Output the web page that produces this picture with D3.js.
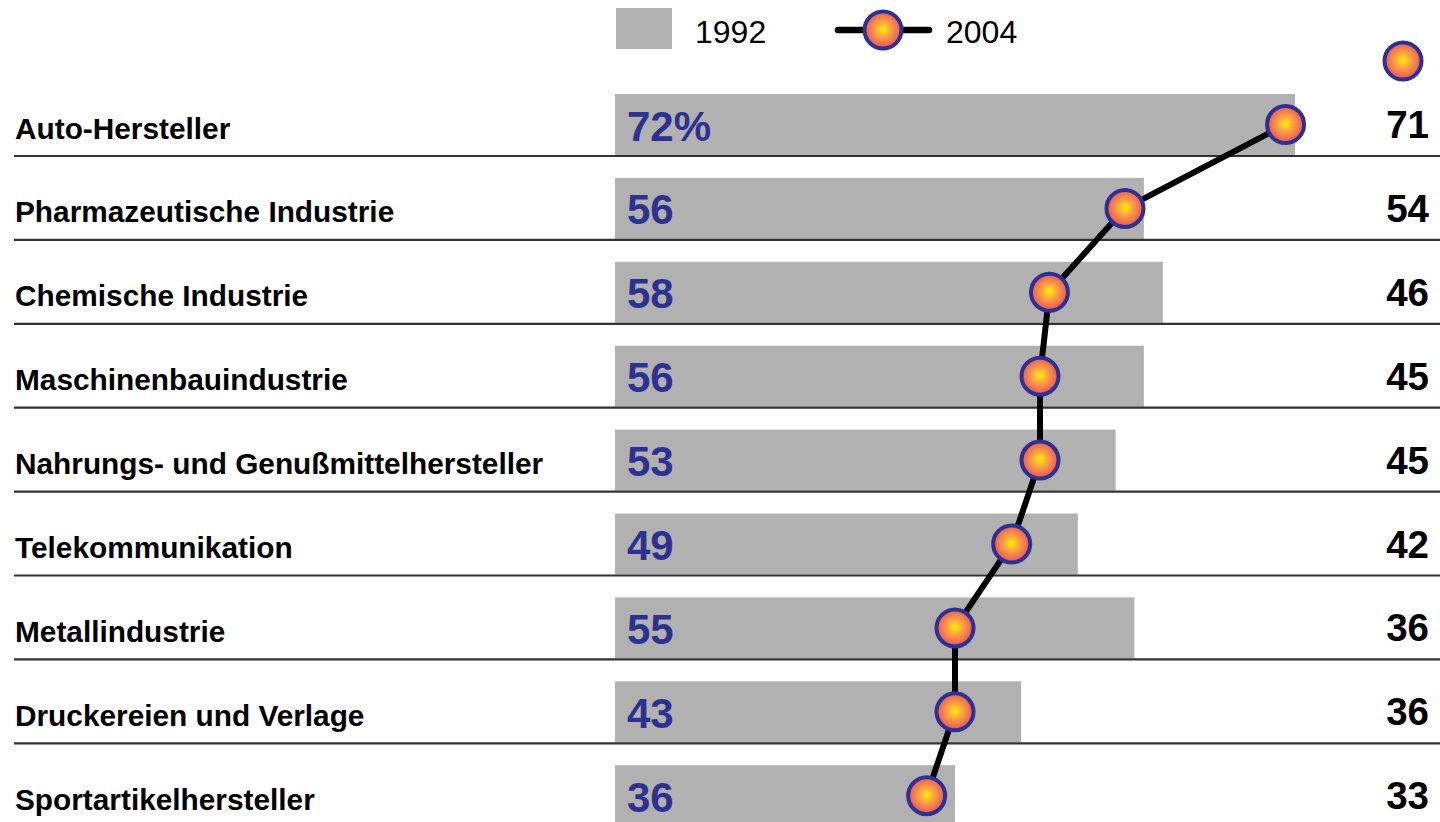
<!DOCTYPE html>
<html>
<head>
<meta charset="utf-8">
<script src="https://cdn.jsdelivr.net/npm/d3@7"></script>
<style>
  body { margin: 0; background: #fff; }
  svg { display: block; font-family: "Liberation Sans", Arial, sans-serif; }
</style>
</head>
<body>
<svg width="1440" height="822"></svg>
<script>
const categories = [
    "Auto-Hersteller",
    "Pharmazeutische Industrie",
    "Chemische Industrie",
    "Maschinenbauindustrie",
    "Nahrungs- und Genußmittelhersteller",
    "Telekommunikation",
    "Metallindustrie",
    "Druckereien und Verlage",
    "Sportartikelhersteller"
];
const values1992 = [72, 56, 58, 56, 53, 49, 55, 43, 36];
const values2004 = [71, 54, 46, 45, 45, 42, 36, 36, 33];
const seriesNames = ["1992", "2004"];

const svg = d3.select("svg"),
    width = +svg.attr("width"),
    height = +svg.attr("height");

const rows = categories.map((c, i) => ({ name: c, v92: values1992[i], v04: values2004[i], i: i }));

// scales
const x = d3.scaleLinear().domain([0, 72]).range([615, 1295]);
const y = d3.scaleBand()
    .domain(categories)
    .range([71.1, 826.2])
    .paddingInner(0.273)
    .paddingOuter(0.1365)
    .align(1);
const bh = y.bandwidth();
const cy = d => y(d.name) + bh / 2;

// marker gradient
const defs = svg.append("defs");
const grad = defs.append("radialGradient").attr("id", "ball")
    .attr("cx", "50%").attr("cy", "48%").attr("r", "52%");
grad.append("stop").attr("offset", "0%").attr("stop-color", "#fff200");
grad.append("stop").attr("offset", "35%").attr("stop-color", "#fbab3c");
grad.append("stop").attr("offset", "100%").attr("stop-color", "#eb4d62");

function marker(g, cx, cyv) {
    g.append("circle")
        .attr("cx", cx).attr("cy", cyv).attr("r", 18.5)
        .attr("fill", "url(#ball)")
        .attr("stroke", "#2e3192")
        .attr("stroke-width", 4);
}

// bars (1992)
svg.append("g").selectAll("rect")
    .data(rows)
    .join("rect")
    .attr("x", x(0))
    .attr("y", d => y(d.name))
    .attr("width", d => x(d.v92) - x(0))
    .attr("height", bh)
    .attr("fill", "#b1b1b1");

// separator lines
svg.append("g").selectAll("line")
    .data(rows.slice(0, -1))
    .join("line")
    .attr("x1", 14).attr("x2", width)
    .attr("y1", d => y(d.name) + bh + 1)
    .attr("y2", d => y(d.name) + bh + 1)
    .attr("stroke", "#333")
    .attr("stroke-width", 2.2);

// category labels
svg.append("g").selectAll("text")
    .data(rows)
    .join("text")
    .attr("x", 15)
    .attr("y", d => cy(d) + 14)
    .attr("font-size", 29.8)
    .attr("font-weight", "bold")
    .attr("fill", "#000")
    .text(d => d.name);

// 1992 values inside bars
svg.append("g").selectAll("text")
    .data(rows)
    .join("text")
    .attr("x", 627)
    .attr("y", d => cy(d) + 16)
    .attr("font-size", 42)
    .attr("font-weight", "bold")
    .attr("fill", "#2e3192")
    .text(d => d.i === 0 ? d.v92 + "%" : d.v92);

// 2004 values on the right
svg.append("g").selectAll("text")
    .data(rows)
    .join("text")
    .attr("x", 1429)
    .attr("y", d => cy(d) + 13.5)
    .attr("text-anchor", "end")
    .attr("font-size", 38.5)
    .attr("font-weight", "bold")
    .attr("fill", "#000")
    .text(d => d.v04);

// 2004 line
const line = d3.line().x(d => x(d.v04)).y(d => cy(d));
svg.append("path")
    .datum(rows)
    .attr("d", line)
    .attr("fill", "none")
    .attr("stroke", "#000")
    .attr("stroke-width", 6);

const markers = svg.append("g");
rows.forEach(d => marker(markers, x(d.v04), cy(d)));

// column marker at top right
marker(svg, 1403, 61);

// legend
const legend = svg.append("g");
legend.append("rect")
    .attr("x", 616).attr("y", 8)
    .attr("width", 56).attr("height", 41)
    .attr("fill", "#b1b1b1");
legend.append("text")
    .attr("x", 695).attr("y", 43)
    .attr("font-size", 32)
    .attr("fill", "#000")
    .text(seriesNames[0]);
legend.append("line")
    .attr("x1", 838).attr("x2", 929)
    .attr("y1", 30).attr("y2", 30)
    .attr("stroke", "#000")
    .attr("stroke-width", 6.5)
    .attr("stroke-linecap", "round");
marker(legend, 883, 30);
legend.append("text")
    .attr("x", 946).attr("y", 43)
    .attr("font-size", 32)
    .attr("fill", "#000")
    .text(seriesNames[1]);
</script>
</body>
</html>
